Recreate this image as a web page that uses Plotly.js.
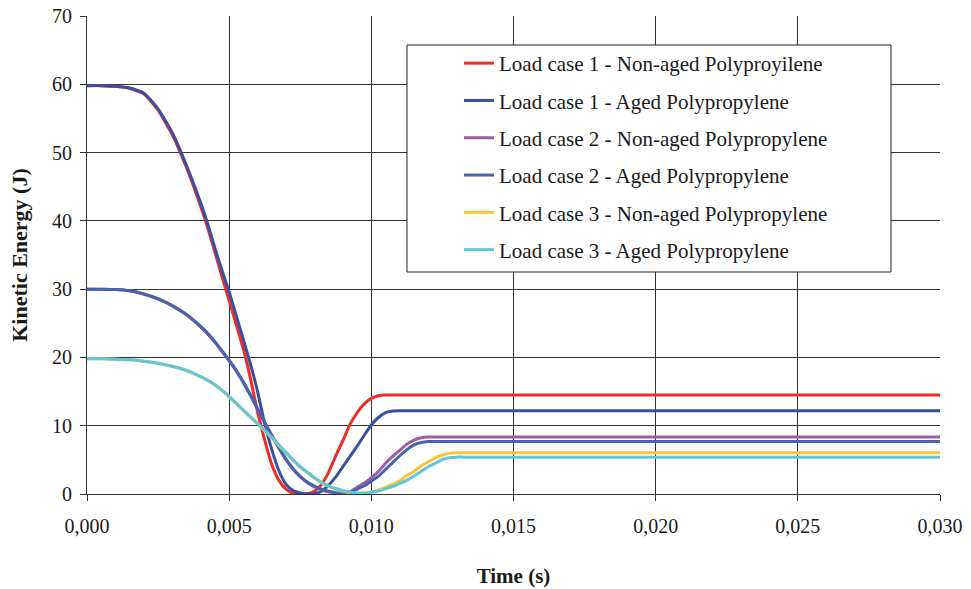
<!DOCTYPE html>
<html>
<head>
<meta charset="utf-8">
<script src="https://cdn.plot.ly/plotly-3.0.1.min.js"></script>
<style>
  html, body { margin: 0; padding: 0; background: #ffffff; }
  #chart { width: 971px; height: 589px; }
</style>
</head>
<body>
<div id="chart"></div>
<script>
// Time (s)
const time = [0, 0.0005, 0.001, 0.0015, 0.002, 0.0025, 0.003, 0.0035,
  0.004, 0.00425, 0.0045, 0.00475, 0.005, 0.00525, 0.0055, 0.00575,
  0.006, 0.00625, 0.0065, 0.00675, 0.007, 0.00725, 0.0075, 0.00775,
  0.008, 0.00825, 0.0085, 0.00875, 0.009, 0.00925, 0.0095, 0.00975,
  0.01, 0.01025, 0.0105, 0.01075, 0.011, 0.01125, 0.0115, 0.01175,
  0.012, 0.01225, 0.0125, 0.01275, 0.013, 0.01325, 0.0135, 0.014, 0.03];

// Kinetic energy (J)
const lc1NonAged = [59.8, 59.8, 59.7, 59.4, 58.6, 56.2, 52.6, 47.8,
  42.1, 38.9, 35.4, 31.8, 28.3, 24.8, 21.2, 16.9,
  12.0, 7.9, 4.3, 2.0, 0.7, 0.1, 0.0, 0.05,
  0.4, 1.4, 3.2, 5.6, 7.8, 10.2, 11.9, 13.2,
  14.0, 14.4, 14.5, 14.5, 14.5, 14.5, 14.5, 14.5,
  14.5, 14.5, 14.5, 14.5, 14.5, 14.5, 14.5, 14.5, 14.5];

const lc1Aged = [59.8, 59.8, 59.7, 59.45, 58.7, 56.4, 52.9, 48.1,
  42.6, 39.5, 36.0, 32.7, 29.6, 26.1, 22.6, 19.0,
  15.0, 10.3, 6.5, 3.4, 1.4, 0.5, 0.15, 0.0,
  0.05, 0.4, 1.3, 2.5, 4.0, 5.5, 7.0, 8.6,
  10.1, 11.2, 11.9, 12.15, 12.2, 12.2, 12.2, 12.2,
  12.2, 12.2, 12.2, 12.2, 12.2, 12.2, 12.2, 12.2, 12.2];

const lc2NonAged = [30.0, 30.0, 29.95, 29.75, 29.25, 28.55, 27.55, 26.2,
  24.45, 23.4, 22.2, 20.85, 19.5, 18.0, 16.3, 14.4,
  12.4, 10.4, 8.5, 6.7, 5.0, 3.6, 2.5, 1.65,
  1.05, 0.6, 0.3, 0.15, 0.1, 0.3, 1.0, 1.6,
  2.4, 3.3, 4.5, 5.5, 6.4, 7.3, 7.9, 8.25,
  8.35, 8.35, 8.35, 8.35, 8.35, 8.35, 8.35, 8.35, 8.35];

const lc2Aged = [30.0, 30.0, 29.95, 29.75, 29.3, 28.6, 27.6, 26.3,
  24.55, 23.5, 22.3, 20.95, 19.6, 18.1, 16.4, 14.5,
  12.5, 10.5, 8.6, 6.8, 5.1, 3.7, 2.6, 1.75,
  1.15, 0.7, 0.4, 0.2, 0.15, 0.3, 0.7, 1.2,
  1.9, 2.6, 3.6, 4.6, 5.6, 6.5, 7.2, 7.55,
  7.7, 7.7, 7.7, 7.7, 7.7, 7.7, 7.7, 7.7, 7.7];

const lc3NonAged = [19.8, 19.8, 19.75, 19.65, 19.45, 19.15, 18.7, 18.05,
  17.15, 16.6, 15.95, 15.15, 14.2, 13.2, 12.2, 11.2,
  10.25, 9.25, 8.2, 7.1, 6.0, 4.9, 3.9, 3.1,
  2.3, 1.6, 1.1, 0.7, 0.4, 0.2, 0.1, 0.15,
  0.3, 0.6, 1.0, 1.4, 1.9, 2.7, 3.3, 4.1,
  4.7, 5.3, 5.7, 5.95, 6.05, 6.05, 6.05, 6.05, 6.05];

const lc3Aged = [19.8, 19.8, 19.75, 19.65, 19.45, 19.15, 18.7, 18.1,
  17.2, 16.65, 16.0, 15.2, 14.3, 13.3, 12.3, 11.3,
  10.35, 9.35, 8.3, 7.2, 6.1, 5.0, 4.0, 3.2,
  2.4, 1.7, 1.2, 0.8, 0.5, 0.3, 0.15, 0.1,
  0.25, 0.45, 0.75, 1.1, 1.55, 2.0, 2.65, 3.3,
  4.0, 4.5, 5.05, 5.3, 5.4, 5.4, 5.4, 5.4, 5.4];

const seriesNames = [
  'Load case 1 - Non-aged Polyproyilene',
  'Load case 1 - Aged Polypropylene',
  'Load case 2 - Non-aged Polypropylene',
  'Load case 2 - Aged Polypropylene',
  'Load case 3 - Non-aged Polypropylene',
  'Load case 3 - Aged Polypropylene'
];
const seriesValues = [lc1NonAged, lc1Aged, lc2NonAged, lc2Aged, lc3NonAged, lc3Aged];
const seriesColors = ['#EE2D27', '#3A4F9F', '#A259A6', '#4563AE', '#FEC42D', '#5EC7DB'];

const xTicks = [0, 0.005, 0.01, 0.015, 0.02, 0.025, 0.03];
const yTicks = [0, 10, 20, 30, 40, 50, 60, 70];

const serif = '"Liberation Serif", "Times New Roman", serif';
const textColor = '#1a1a1a';

const traces = seriesValues.map((vals, i) => ({
  type: 'scatter',
  mode: 'lines',
  x: time,
  y: vals,
  name: seriesNames[i],
  legendgroup: 'g' + i,
  line: { color: seriesColors[i], width: 3, shape: 'spline', smoothing: 0.5 }
}));

const layout = {
  width: 971,
  height: 589,
  margin: { l: 87, r: 31, t: 16, b: 95 },
  paper_bgcolor: '#ffffff',
  plot_bgcolor: '#ffffff',
  separators: ',.',
  showlegend: true,
  font: { family: serif, size: 20, color: textColor },
  xaxis: {
    range: [0, 0.03],
    tickvals: xTicks,
    tickformat: '.3f',
    ticks: 'outside',
    ticklen: 6,
    tickcolor: '#333',
    showline: true,
    linecolor: '#333',
    linewidth: 1,
    showgrid: true,
    gridcolor: '#333333',
    gridwidth: 1,
    zeroline: false,
    ticklabelstandoff: 8,
    tickfont: { family: serif, size: 20, color: textColor },
    title: { text: '<b>Time (s)</b>', font: { family: serif, size: 21, color: textColor }, standoff: 32 },
    automargin: false,
    fixedrange: true
  },
  yaxis: {
    range: [0, 70],
    tickvals: yTicks,
    ticks: 'outside',
    ticklen: 6,
    tickcolor: '#333',
    showline: true,
    linecolor: '#333',
    linewidth: 1,
    showgrid: true,
    gridcolor: '#333333',
    gridwidth: 1,
    zeroline: false,
    ticklabelstandoff: 4,
    tickfont: { family: serif, size: 20, color: textColor },
    title: { text: '<b>Kinetic Energy (J)</b>', font: { family: serif, size: 22, color: textColor }, standoff: 18 },
    automargin: false,
    fixedrange: true
  },
  shapes: [{
    type: 'rect', xref: 'paper', yref: 'paper', layer: 'above',
    x0: (407 - 87) / 853, x1: (891 - 87) / 853,
    y0: (494 - 272) / 478, y1: (494 - 45) / 478,
    line: { color: '#222', width: 1 }, fillcolor: '#ffffff'
  }],
  legend: {
    x: (459 - 87) / 853,
    y: (494 - 43) / 478,
    xanchor: 'left',
    yanchor: 'top',
    bgcolor: 'rgba(0,0,0,0)',
    borderwidth: 0,
    tracegroupgap: 7,
    font: { family: serif, size: 21, color: textColor }
  }
};

Plotly.newPlot('chart', traces, layout, { displayModeBar: false, staticPlot: true });
</script>
</body>
</html>
